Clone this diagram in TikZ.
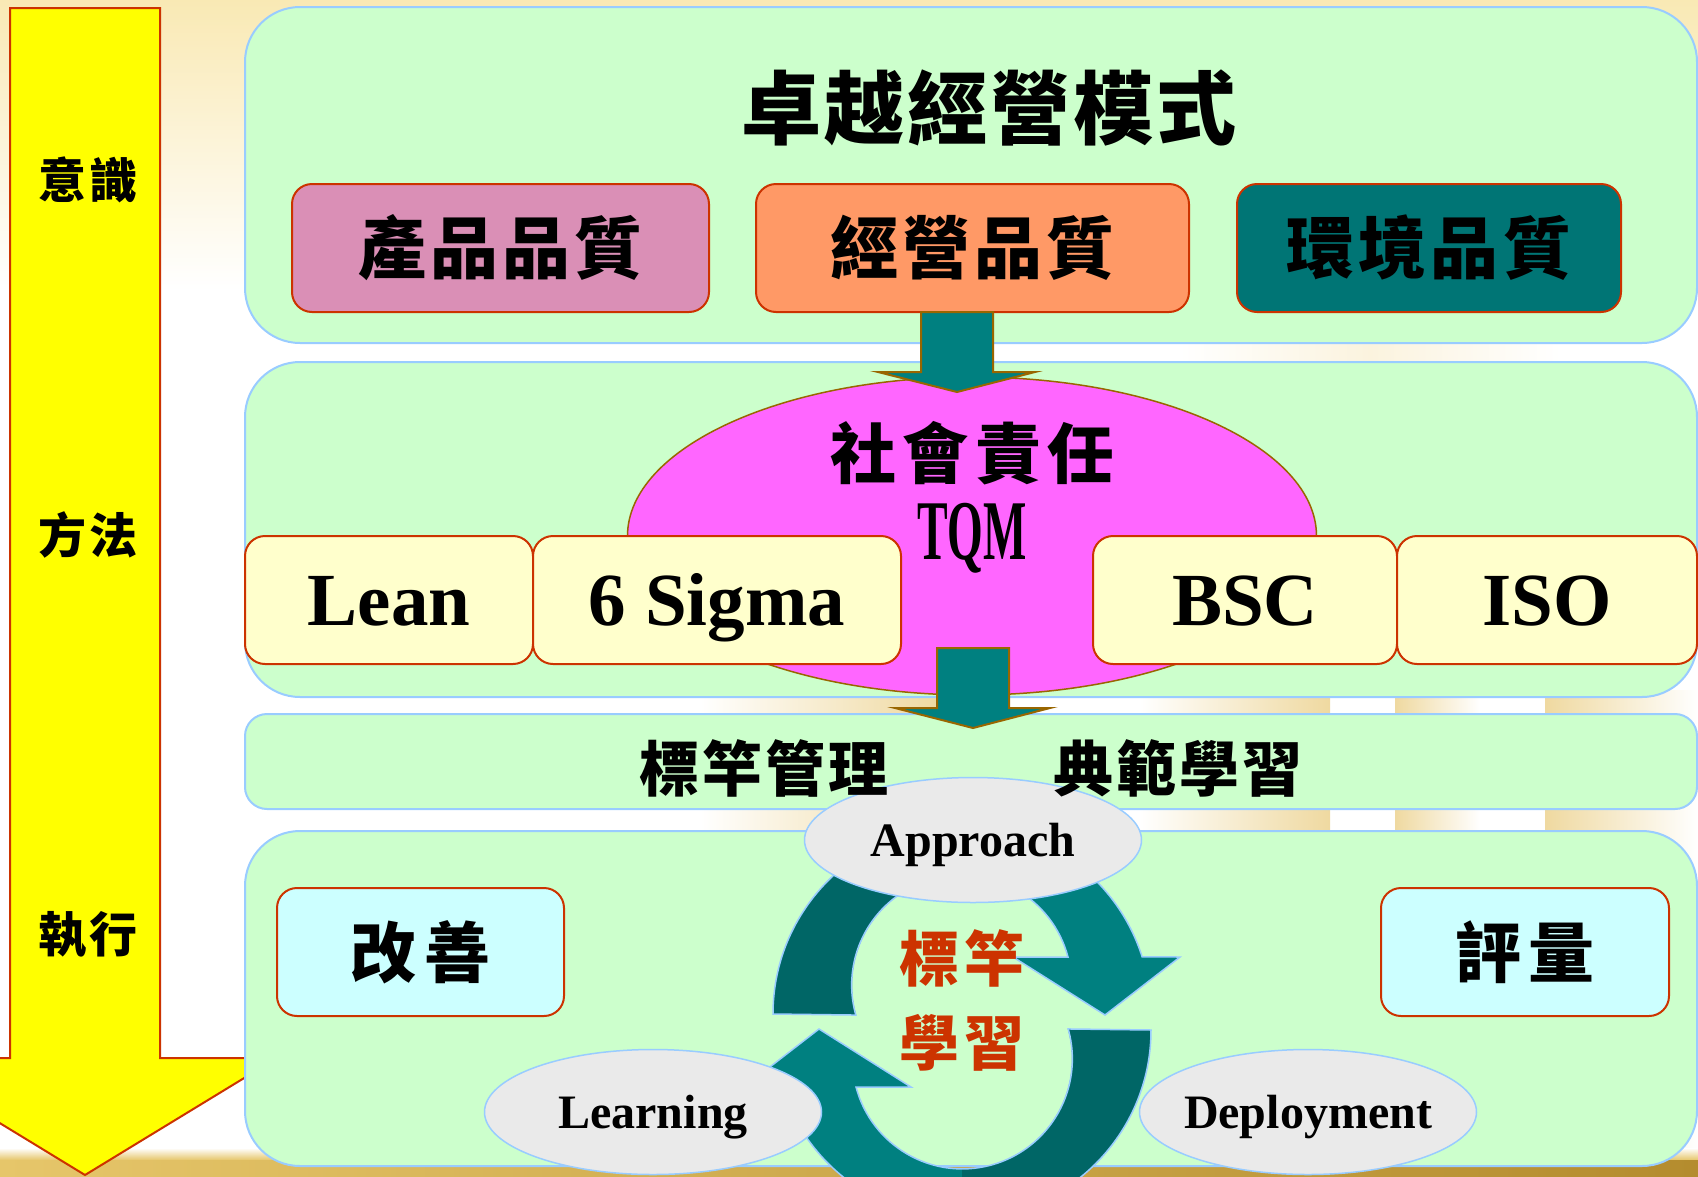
\documentclass[tikz,border=0pt]{standalone}
\usepackage{fontspec}
\usepackage{graphicx}
\setmainfont{Liberation Serif}
\newfontfamily\cjk{Noto Sans CJK TC}
\usetikzlibrary{shapes.geometric}

\definecolor{panelG}{HTML}{CCFFCC}
\definecolor{panelB}{HTML}{99CCFF}
\definecolor{boxR}{HTML}{CC3300}
\definecolor{pinkQ}{HTML}{DA8FB6}
\definecolor{orangeQ}{HTML}{FF9966}
\definecolor{tealQ}{HTML}{007575}
\definecolor{magentaE}{HTML}{FF66FF}
\definecolor{oliveB}{HTML}{996600}
\definecolor{tealA}{HTML}{008080}
\definecolor{tealD}{HTML}{006666}
\definecolor{creamB}{HTML}{FFFFCC}
\definecolor{cyanB}{HTML}{CCFFFF}
\definecolor{greyE}{HTML}{EAEAEA}
\definecolor{yellowA}{HTML}{FFFF00}
\definecolor{bgTop}{HTML}{F9E9B4}
\definecolor{pillar}{HTML}{EFD9A0}
\definecolor{pillarF}{HTML}{FBF3DE}
\definecolor{goldL}{HTML}{E6C66A}
\definecolor{goldR}{HTML}{B48C2E}

\tikzset{
  panel/.style={draw=panelB, line width=2pt, fill=panelG},
  qbox/.style={draw=boxR, line width=2pt, rounded corners=20pt, inner sep=0pt},
  zh/.style 2 args={font={\cjk\bfseries\fontsize{#1}{#1}\selectfont\addfontfeatures{LetterSpace=#2}}},
  en/.style={font={\bfseries\fontsize{75}{75}\selectfont}, text height=50pt, text depth=0pt},
  pdca/.style={ellipse, draw=panelB, line width=1.5pt, fill=greyE, inner sep=0pt,
    inner xsep=-40pt, minimum width=337pt, minimum height=125pt,
    font={\bfseries\fontsize{48}{48}\selectfont}, text depth=0pt},
  blockarrow/.style={draw=oliveB, line width=2pt, fill=tealA, line join=miter},
  cyc/.style={draw=panelB, line width=1.5pt},
}

\begin{document}
\begin{tikzpicture}[x=1pt,y=-1pt]
\useasboundingbox (0,0) rectangle (1698,1176);

% backdrop: warm glow at the top, soft pillars, golden floor
\fill[white] (0,0) rectangle (1698,1176);
\shade[top color=bgTop, bottom color=white] (0,0) rectangle (1698,290);
\shade[left color=white, right color=white, middle color=pillarF] (1180,330) rectangle (1560,370);
\shade[left color=white, right color=pillar] (700,690) rectangle (940,1160);
\shade[left color=white, right color=pillar] (1140,690) rectangle (1330,1160);
\shade[left color=pillar, right color=white] (1395,690) rectangle (1480,1160);
\shade[left color=pillar, right color=white] (1545,690) rectangle (1698,1160);
\shade[top color=white, bottom color=goldL] (0,1148) rectangle (1698,1160);
\shade[left color=goldL, right color=goldR] (0,1160) rectangle (1698,1176);

% big downward arrow on the left
\draw[draw=boxR, line width=2pt, fill=yellowA, line join=miter]
  (10,8) -- (160,8) -- (160,1058) -- (277,1058) -- (85,1175) -- (-107,1058) -- (10,1058) -- cycle;
\node[zh={48}{7}] (aware) at (88,180) {意識};
\node[zh={48}{7}] (method) at (88,535) {方法};
\node[zh={48}{7}] (exec) at (88,935) {執行};

% four green bands
\draw[panel, rounded corners=55pt] (245,7) rectangle (1697,343);
\draw[panel, rounded corners=55pt] (245,362) rectangle (1697,697);
\draw[panel, rounded corners=22pt] (245,714) rectangle (1697,809);
\draw[panel, rounded corners=55pt] (245,831) rectangle (1697,1166);

% top band
\node[zh={80}{4}] (title) at (989,108) {卓越經營模式};
\node[qbox, fill=pinkQ, minimum width=417pt, minimum height=128pt, zh={68}{6}] (prod) at (500.5,248) {產品品質};
\node[qbox, fill=orangeQ, minimum width=433pt, minimum height=128pt, zh={68}{6}] (mgmt) at (972.5,248) {經營品質};
\node[qbox, fill=tealQ, minimum width=384pt, minimum height=128pt, zh={68}{6}] (env) at (1429,248) {環境品質};

% second band
\node[ellipse, draw=oliveB, line width=1.5pt, fill=magentaE, minimum width=689pt, minimum height=318pt] (tqm) at (972,536) {};
\node[zh={66}{10}] (csr) at (972,453) {社會責任};
\node[font={\bfseries\fontsize{85}{85}\selectfont}] (tqmlbl) at (972,538) {\scalebox{0.54}[1]{TQM}};
\node[qbox, fill=creamB, minimum width=288pt, minimum height=128pt, en] (lean) at (389,600) {Lean};
\node[qbox, fill=creamB, minimum width=368pt, minimum height=128pt, en] (sigma) at (717,600) {6 Sigma};
\node[qbox, fill=creamB, minimum width=304pt, minimum height=128pt, en] (bsc) at (1245,600) {BSC};
\node[qbox, fill=creamB, minimum width=300pt, minimum height=128pt, en] (iso) at (1547,600) {ISO};

% teal block arrows between bands
\draw[blockarrow] (921,312) -- (993,312) -- (993,372) -- (1035,372) -- (957,392) -- (878,372) -- (921,372) -- cycle;
\draw[blockarrow] (937,648) -- (1009,648) -- (1009,708) -- (1050,708) -- (973,728) -- (895,708) -- (937,708) -- cycle;

% bottom band boxes
\node[qbox, fill=cyanB, minimum width=287pt, minimum height=128pt, zh={66}{12}] (improve) at (420.5,952) {改善};
\node[qbox, fill=cyanB, minimum width=288pt, minimum height=128pt, zh={66}{12}] (assess) at (1525,952) {評量};

% circular arrows of the learning cycle
\foreach \turn in {0,180}{
  \begin{scope}[rotate around={\turn:(962,1022)}]
    \fill[tealA] (773,1014) arc[start angle=180, end angle=342.4, radius=189]
      -- (1180,957) -- (1105,1015) -- (1013,957) -- (1068,957)
      arc[start angle=345.2, end angle=164.2, radius=110] -- cycle;
    \fill[tealD] (773,1014) arc[start angle=180, end angle=270, radius=189]
      -- (962,875) arc[start angle=270, end angle=164.2, radius=110] -- cycle;
    \draw[cyc] (773,1014) arc[start angle=180, end angle=342.4, radius=189]
      -- (1180,957) -- (1105,1015) -- (1013,957) -- (1068,957)
      arc[start angle=345.2, end angle=164.2, radius=110] -- cycle;
  \end{scope}
}

\node[pdca] (appr) at (973,840) {Approach};
\node[pdca] (learn) at (653,1112) {Learning};
\node[pdca] (deploy) at (1308,1112) {Deployment};

\node[zh={60}{9}, text=boxR] (cyc1) at (962,958) {標竿};
\node[zh={60}{9}, text=boxR] (cyc2) at (962,1043) {學習};

% third band labels
\node[zh={60}{5}] (bench) at (764,768) {標竿管理};
\node[zh={60}{5}] (model) at (1178,768) {典範學習};
\end{tikzpicture}
\end{document}
